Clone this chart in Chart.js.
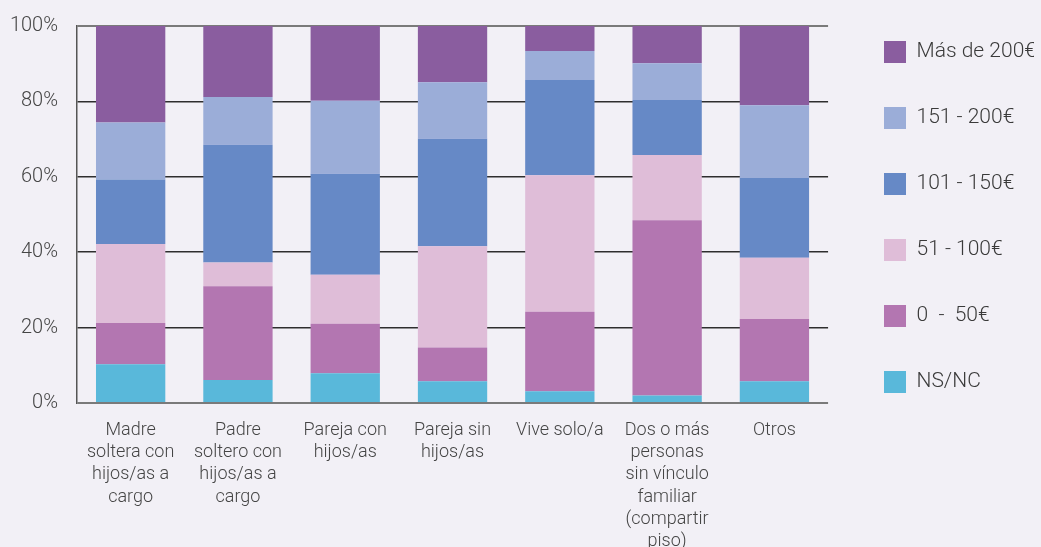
<!DOCTYPE html>
<html lang="es">
<head>
<meta charset="utf-8">
<title>Gasto por tipo de hogar</title>
<script src="https://cdn.jsdelivr.net/npm/chart.js@4.4.1/dist/chart.umd.min.js"></script>
<style>
    html, body {
        margin: 0;
        padding: 0;
        background: #f2f0f6;
    }
    .chart-container {
        position: relative;
        width: 1041px;
        height: 547px;
    }
</style>
</head>
<body>
<div class="chart-container">
    <canvas id="main-chart"></canvas>
</div>
<script>
// ==================== DATOS ====================

// Tipos de hogar (eje X), partidos en líneas como en el original
const categorias = [
    ['Madre', 'soltera con', 'hijos/as a', 'cargo'],
    ['Padre', 'soltero con', 'hijos/as a', 'cargo'],
    ['Pareja con', 'hijos/as'],
    ['Pareja sin', 'hijos/as'],
    'Vive solo/a',
    ['Dos o más', 'personas', 'sin vínculo', 'familiar', '(compartir', 'piso)'],
    'Otros'
];

// Porcentajes por tramo (de abajo hacia arriba en cada barra)
const nsnc      = [10.3,  6.1,  7.9,  5.8,  3.1,  2.0,  5.8];
const de0a50    = [10.9, 24.9, 13.1,  8.9, 21.1, 46.5, 16.5];
const de51a100  = [21.0,  6.3, 13.0, 26.9, 36.2, 17.3, 16.2];
const de101a150 = [17.1, 31.2, 26.8, 28.5, 25.3, 14.6, 21.2];
const de151a200 = [15.1, 12.7, 19.4, 15.0,  7.7,  9.7, 19.3];
const masDe200  = [25.6, 18.8, 19.8, 14.9,  6.6,  9.9, 21.0];

const etiquetasY = [0, 20, 40, 60, 80, 100];

// ==================== CONFIGURACIÓN ====================

const fuente = 'Roboto';
const colorTexto = '#454545';

/**
 * Mueve la leyenda a su sitio (a la derecha, pegada al borde)
 */
const ajusteLeyenda = {
    id: 'ajusteLeyenda',
    afterLayout(chart) {
        const pad = chart.options.plugins.legend.labels.padding;
        chart.legend.left = 884 - pad;
        chart.legend.top = 41 - pad;
    }
};

function serie(label, data, color) {
    return {
        label: label,
        data: data,
        backgroundColor: color,
        borderWidth: 0,
        barPercentage: 0.646,
        categoryPercentage: 1.0
    };
}

// Tamaños fijos de los ejes, sin relleno extra de las etiquetas
function ejeX(scale) {
    scale.paddingLeft = scale.paddingRight = 0;
    scale.height = 150;
}
function ejeY(scale) {
    scale.paddingTop = scale.paddingBottom = 0;
    scale.width = 67;
}

const ctx = document.getElementById('main-chart');

const mainChart = new Chart(ctx, {
    type: 'bar',
    data: {
        labels: categorias,
        datasets: [
            serie('NS/NC', nsnc, '#59b8da'),
            serie('0  -  50€', de0a50, '#b376b1'),
            serie('51 - 100€', de51a100, '#dfbdd8'),
            serie('101 - 150€', de101a150, '#6689c6'),
            serie('151 - 200€', de151a200, '#9badd8'),
            serie('Más de 200€', masDe200, '#8a5d9f')
        ]
    },
    options: {
        responsive: true,
        maintainAspectRatio: false,
        animation: false,
        layout: {
            padding: { left: 10, top: 26, right: 7, bottom: -6 }
        },
        plugins: {
            legend: {
                display: true,
                position: 'right',
                align: 'start',
                reverse: true,
                labels: {
                    boxWidth: 22,
                    boxHeight: 22,
                    padding: 44,
                    color: '#3a3a3a',
                    font: { family: fuente, size: 21, weight: 300 }
                }
            },
            tooltip: { enabled: false }
        },
        scales: {
            x: {
                stacked: true,
                afterFit: ejeX,
                grid: { display: false, drawTicks: false },
                border: { display: false },
                ticks: {
                    color: colorTexto,
                    padding: 16,
                    maxRotation: 0,
                    autoSkip: false,
                    font: { family: fuente, size: 18, weight: 300, lineHeight: 1.24 }
                }
            },
            y: {
                stacked: true,
                min: 0,
                max: 100,
                afterFit: ejeY,
                afterBuildTicks: function(scale) {
                    scale.ticks = etiquetasY.map(v => ({ value: v }));
                },
                grid: {
                    drawTicks: false,
                    color: function(c) {
                        return (c.tick.value === 0 || c.tick.value === 100) ? '#7a7a7a' : '#2e2e2e';
                    },
                    lineWidth: function(c) {
                        return (c.tick.value === 0 || c.tick.value === 100) ? 2 : 1.5;
                    }
                },
                border: { display: true, color: '#555', width: 1.5 },
                ticks: {
                    color: colorTexto,
                    padding: 19,
                    font: { family: fuente, size: 20, weight: 300 },
                    callback: function(value) {
                        return value + '%';
                    }
                }
            }
        }
    },
    plugins: [ajusteLeyenda]
});
</script>
</body>
</html>
